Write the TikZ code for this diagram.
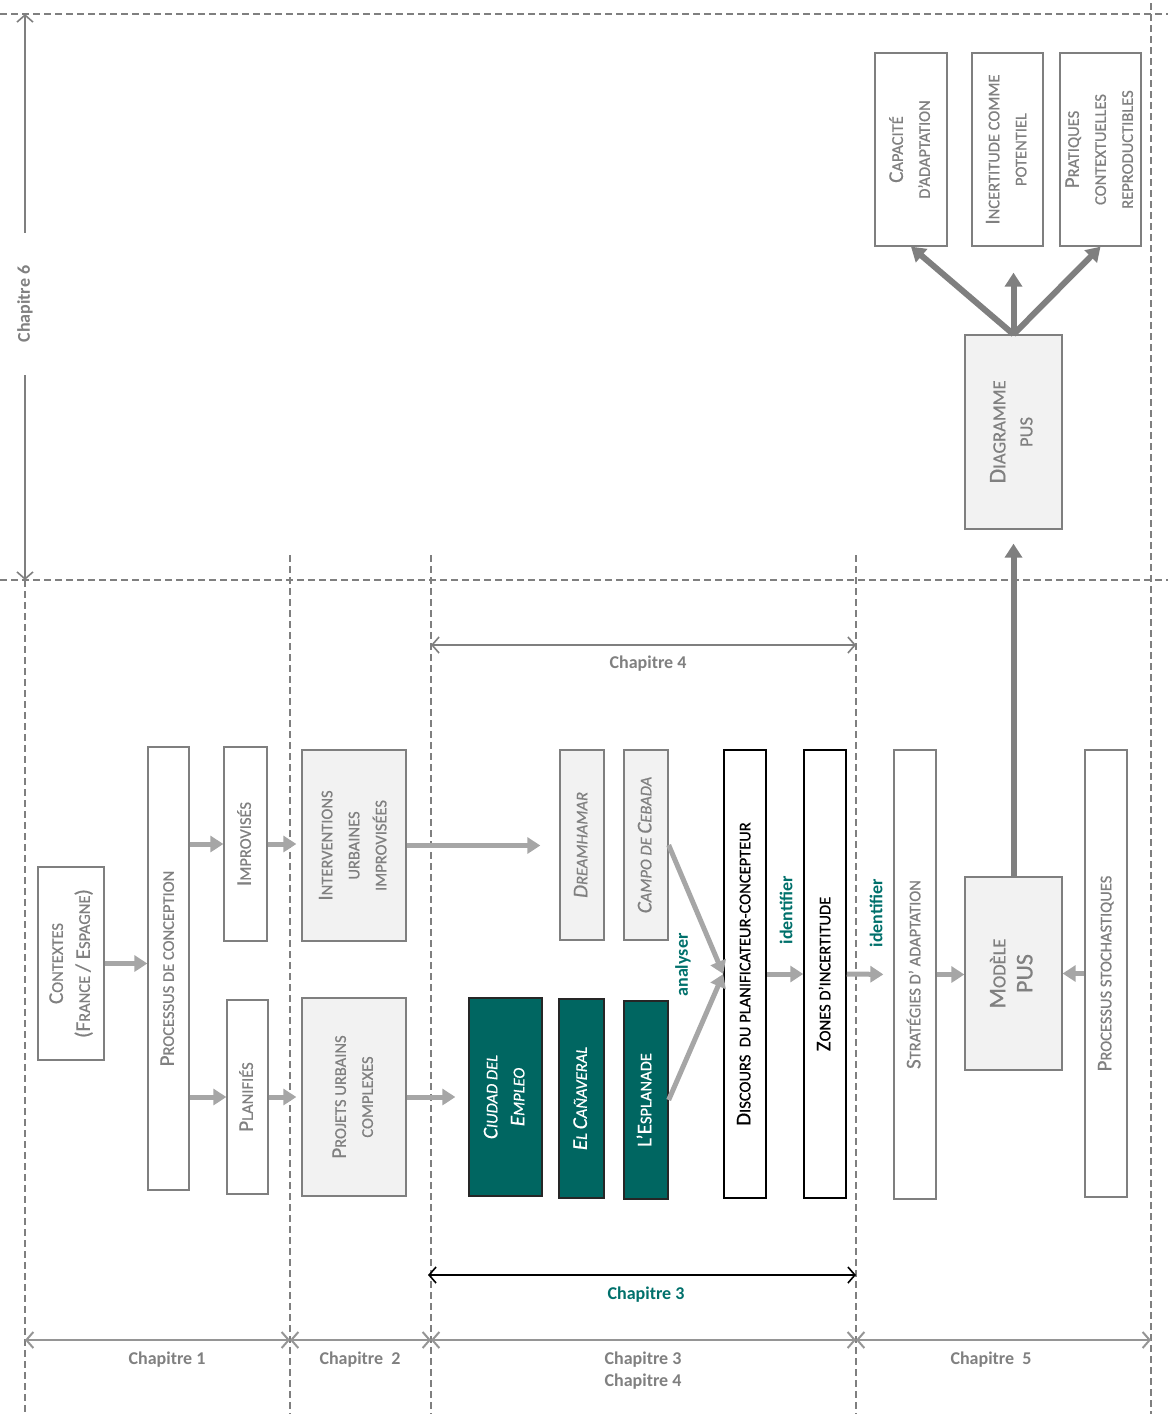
\documentclass[tikz,border=0pt]{standalone}
\usepackage{fontspec}
\setmainfont{Carlito}
\newfontfamily\bxfont{Carlito}[FakeBold=0.6]
\usepackage{graphicx}
\usetikzlibrary{arrows.meta}
\definecolor{bxgray}{HTML}{7F7F7F}
\definecolor{txgray}{HTML}{808080}
\definecolor{fillgray}{HTML}{F2F2F2}
\definecolor{arrlight}{HTML}{A6A6A6}
\definecolor{arrdark}{HTML}{7F7F7F}
\definecolor{tealbox}{HTML}{006661}
\definecolor{tealtx}{HTML}{00706B}
\newcommand\Lg[1]{{\fontsize{21}{27}\selectfont #1}}
\newcommand\Sm[1]{{\fontsize{16.5}{27}\selectfont #1}}
\newcommand\LG[1]{{\fontsize{24}{30}\selectfont #1}}
\newcommand\SM[1]{{\fontsize{18.5}{30}\selectfont #1}}
\newcommand\rt[1]{\rotatebox{90}{\begin{tabular}{@{}c@{}}#1\end{tabular}}}
\tikzset{
  bx/.style={draw=bxgray, line width=1.3pt, inner sep=0pt, text=txgray, fill=white, font=\bxfont\fontsize{16.5}{27}\selectfont},
  gbx/.style={bx, fill=fillgray},
  kbx/.style={draw=black, line width=1.5pt, inner sep=0pt, text=black, fill=white, font=\bxfont\fontsize{16.5}{27}\selectfont},
  tbx/.style={draw=black!85, line width=1.3pt, inner sep=0pt, text=white, fill=tealbox, font=\bxfont\fontsize{16.5}{27}\selectfont\itshape},
  fatL/.style={draw=arrlight, line width=5pt, -{Triangle[length=13pt,width=16pt]}},
  fatD/.style={draw=arrdark, line width=6pt, -{Triangle[length=14pt,width=17pt]}},
  span/.style={draw=bxgray, line width=1.6pt, {Straight Barb[length=7pt,width=16pt]}-{Straight Barb[length=7pt,width=16pt]}},
  dsh/.style={draw=bxgray, line width=1.2pt, dash pattern=on 7pt off 4pt},
  lbl/.style={font=\bfseries\fontsize{18}{22}\selectfont, text=txgray, inner sep=1pt},
  tlbl/.style={font=\bfseries\fontsize{18}{22}\selectfont, text=tealtx, inner sep=1pt},
}
\begin{document}
\begin{tikzpicture}[x=1pt,y=-1pt]
\useasboundingbox (0,0) rectangle (1168,1414);
% dashed grid
\draw[dsh] (0,14) -- (1168,14);
\draw[dsh] (0,580) -- (1168,580);
\draw[dsh] (25,580) -- (25,1414);
\draw[dsh] (290,555) -- (290,1414);
\draw[dsh] (431,555) -- (431,1414);
\draw[dsh] (856,555) -- (856,1414);
\draw[dsh] (1151,3) -- (1151,1414);
% boxes
\node[bx, minimum width=66pt, minimum height=193pt] (ctx) at (71,963.5) {\rt{\Lg{C}\Sm{ONTEXTES}\\ \Lg{(F}\Sm{RANCE }\Lg{/ E}\Sm{SPAGNE}\Lg{)}}};
\node[bx, minimum width=41pt, minimum height=443pt] (proc) at (168.5,968.5) {\rt{\Lg{P}\Sm{ROCESSUS DE CONCEPTION}}};
\node[bx, minimum width=43pt, minimum height=194pt] (impr) at (245.5,844) {\rt{\Lg{I}\Sm{MPROVISÉS}}};
\node[bx, minimum width=41pt, minimum height=194pt] (plan) at (247.5,1097) {\rt{\Lg{P}\Sm{LANIFIÉS}}};
\node[gbx, minimum width=104pt, minimum height=191pt] (interv) at (354,845.5) {\rt{\Lg{I}\Sm{NTERVENTIONS}\\ \Sm{URBAINES}\\ \Sm{IMPROVISÉES}}};
\node[gbx, minimum width=104pt, minimum height=198pt] (projets) at (354,1097) {\rt{\Lg{P}\Sm{ROJETS URBAINS}\\ \Sm{COMPLEXES}}};
\node[gbx, minimum width=44pt, minimum height=190pt, font=\bxfont\fontsize{16.5}{27}\selectfont\itshape] (dream) at (582,845) {\rt{\Lg{D}\Sm{REAMHAMAR}}};
\node[gbx, minimum width=44pt, minimum height=190pt, font=\bxfont\fontsize{16.5}{27}\selectfont\itshape] (campo) at (646,845) {\rt{\Lg{C}\Sm{AMPO DE }\Lg{C}\Sm{EBADA}}};
\node[tbx, minimum width=73pt, minimum height=198pt] (ciudad) at (505.5,1097) {\rt{\Lg{C}\Sm{IUDAD DEL}\\ \Lg{E}\Sm{MPLEO}}};
\node[tbx, minimum width=45pt, minimum height=199pt] (canav) at (581.5,1098.5) {\rt{\Lg{E}\Sm{L }\Lg{C}\Sm{AÑAVERAL}}};
\node[tbx, minimum width=44pt, minimum height=198pt] (espl) at (646,1100) {\rt{\upshape\Lg{L’E}\Sm{SPLANADE}}};
\node[kbx, minimum width=42pt, minimum height=448pt] (disc) at (745,974) {\rt{\Lg{D}\Sm{ISCOURS\ \ DU PLANIFICATEUR-CONCEPTEUR}}};
\node[kbx, minimum width=42pt, minimum height=448pt] (zones) at (825,974) {\rt{\Lg{Z}\Sm{ONES D’INCERTITUDE}}};
\node[bx, minimum width=42pt, minimum height=449pt] (strat) at (915,974.5) {\rt{\Lg{S}\Sm{TRATÉGIES D’ ADAPTATION}}};
\node[gbx, minimum width=97pt, minimum height=193pt] (modele) at (1013.5,973.5) {\rt{\LG{M}\SM{ODÈLE}\\ \LG{PUS}}};
\node[bx, minimum width=42pt, minimum height=447pt] (stoch) at (1106,973.5) {\rt{\Lg{P}\Sm{ROCESSUS STOCHASTIQUES}}};
\node[gbx, minimum width=97pt, minimum height=194pt] (diag) at (1013.5,432) {\rt{\LG{D}\SM{IAGRAMME}\\ \SM{PUS}}};
\node[bx, minimum width=72pt, minimum height=193pt] (cap) at (911,149.5) {\rt{\Lg{C}\Sm{APACITÉ}\\ \Sm{D’ADAPTATION}}};
\node[bx, minimum width=71pt, minimum height=193pt] (inc) at (1007.5,149.5) {\rt{\Lg{I}\Sm{NCERTITUDE COMME}\\ \Sm{POTENTIEL}}};
\node[bx, minimum width=77pt, minimum height=193pt] (prat) at (1100.5,149.5) {\rt{\Lg{P}\Sm{RATIQUES}\\ \Sm{CONTEXTUELLES}\\ \Sm{REPRODUCTIBLES}}};
% connectors
\draw[fatL] (ctx.east) -- (proc.west|-ctx.east);
\draw[fatL] (proc.east|-impr.west) -- (impr.west);
\draw[fatL] (proc.east|-plan.west) -- (plan.west);
\draw[fatL, shorten >=5pt] (impr.east) -- (interv.west|-impr.east);
\draw[fatL, shorten >=5pt] (plan.east) -- (projets.west|-plan.east);
\draw[fatL, shorten >=19pt] (interv.east) -- (dream.west|-interv.east);
\draw[fatL, shorten >=13pt] (projets.east) -- (ciudad.west);
\draw[fatL] (campo.east) -- (disc.west);
\draw[fatL] (espl.east) -- (disc.west);
\draw[fatL] (disc.east) -- (zones.west);
\draw[fatL, shorten >=10pt] (zones.east) -- (strat.west);
\draw[fatL] (strat.east) -- (modele.west|-strat.east);
\draw[fatL] (stoch.west) -- (modele.east|-stoch.west);
\draw[fatD, shorten >=14pt] (modele.north) -- (diag.south);
\draw[fatD] (diag.north) -- (cap.south);
\draw[fatD, shorten >=26pt] (diag.north) -- (diag.north|-inc.south);
\draw[fatD] (diag.north) -- (prat.south);
% labels on connectors
\node[tlbl, rotate=90] (an) at (683,965) {analyser};
\node[tlbl, rotate=90] (id1) at (786,910) {identifier};
\node[tlbl, rotate=90] (id2) at (876,913) {identifier};
% chapter spans
\coordinate (c6a) at (25,14); \coordinate (c6b) at (25,580);
\draw[span] (c6a) -- (c6b);
\node[lbl, rotate=90, fill=white, inner xsep=33pt, inner ysep=2pt] (ch6) at (25,304) {Chapitre 6};
\coordinate (c4a) at (431,645); \coordinate (c4b) at (856,645);
\draw[span] (c4a) -- (c4b);
\node[lbl] (ch4) at (648,664) {Chapitre 4};
\coordinate (c3a) at (428,1275); \coordinate (c3b) at (856,1275);
\draw[span, draw=black] (c3a) -- (c3b);
\node[tlbl] (ch3) at (646,1295) {Chapitre 3};
\coordinate (b1) at (25,1340); \coordinate (b2) at (290,1340);
\coordinate (b3) at (431,1340); \coordinate (b4) at (856,1340);
\coordinate (b5) at (1151,1340);
\draw[span, line width=2pt, draw=arrlight!90!black] (b1) -- (b2);
\draw[span, line width=2pt, draw=arrlight!90!black] (b2) -- (b3);
\draw[span, line width=2pt, draw=arrlight!90!black] (b3) -- (b4);
\draw[span, line width=2pt, draw=arrlight!90!black] (b4) -- (b5);
\node[lbl] (l1) at (167,1360) {Chapitre 1};
\node[lbl] (l2) at (360,1360) {Chapitre\ \ 2};
\node[lbl] (l3) at (643,1360) {Chapitre 3};
\node[lbl] (l4) at (643,1382) {Chapitre 4};
\node[lbl] (l5) at (991,1360) {Chapitre\ \ 5};
\end{tikzpicture}
\end{document}
